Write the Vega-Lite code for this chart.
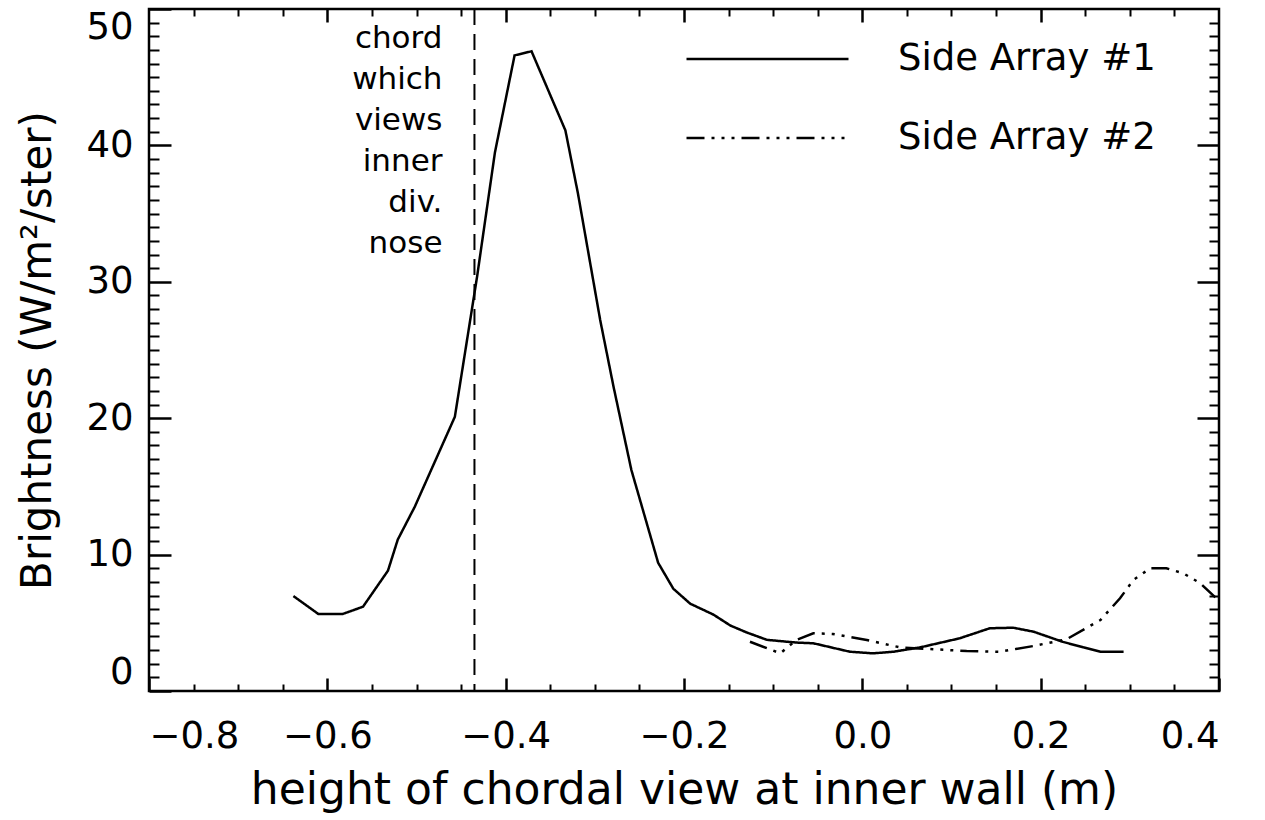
{
  "$schema": "https://vega.github.io/schema/vega-lite/v6.json",
  "width": 1070,
  "height": 682,
  "autosize": {"type": "none"},
  "padding": {"left": 149, "top": 9, "right": 46, "bottom": 129},
  "background": "white",
  "config": {
    "view": {"stroke": "black", "strokeWidth": 2.5},
    "font": "DejaVu Sans",
    "axis": {"grid": false, "domain": false, "tickColor": "black", "labelColor": "black", "titleColor": "black", "labelFont": "DejaVu Sans", "titleFont": "DejaVu Sans", "titleFontWeight": "normal"}
  },
  "data": {"values": [
    {"series": "Side Array #1", "height": -0.638, "brightness": 6.96},
    {"series": "Side Array #1", "height": -0.610, "brightness": 5.64},
    {"series": "Side Array #1", "height": -0.583, "brightness": 5.64},
    {"series": "Side Array #1", "height": -0.560, "brightness": 6.18},
    {"series": "Side Array #1", "height": -0.532, "brightness": 8.82},
    {"series": "Side Array #1", "height": -0.521, "brightness": 11.1},
    {"series": "Side Array #1", "height": -0.502, "brightness": 13.5},
    {"series": "Side Array #1", "height": -0.457, "brightness": 20.1},
    {"series": "Side Array #1", "height": -0.432, "brightness": 30.4},
    {"series": "Side Array #1", "height": -0.412, "brightness": 39.5},
    {"series": "Side Array #1", "height": -0.390, "brightness": 46.6},
    {"series": "Side Array #1", "height": -0.371, "brightness": 46.9},
    {"series": "Side Array #1", "height": -0.333, "brightness": 41.1},
    {"series": "Side Array #1", "height": -0.319, "brightness": 36.5},
    {"series": "Side Array #1", "height": -0.294, "brightness": 27.2},
    {"series": "Side Array #1", "height": -0.279, "brightness": 22.3},
    {"series": "Side Array #1", "height": -0.259, "brightness": 16.2},
    {"series": "Side Array #1", "height": -0.229, "brightness": 9.4},
    {"series": "Side Array #1", "height": -0.212, "brightness": 7.5},
    {"series": "Side Array #1", "height": -0.193, "brightness": 6.4},
    {"series": "Side Array #1", "height": -0.167, "brightness": 5.6},
    {"series": "Side Array #1", "height": -0.148, "brightness": 4.8},
    {"series": "Side Array #1", "height": -0.130, "brightness": 4.3},
    {"series": "Side Array #1", "height": -0.107, "brightness": 3.75},
    {"series": "Side Array #1", "height": -0.074, "brightness": 3.55},
    {"series": "Side Array #1", "height": -0.055, "brightness": 3.5},
    {"series": "Side Array #1", "height": -0.014, "brightness": 2.88},
    {"series": "Side Array #1", "height": 0.012, "brightness": 2.76},
    {"series": "Side Array #1", "height": 0.035, "brightness": 2.88},
    {"series": "Side Array #1", "height": 0.065, "brightness": 3.2},
    {"series": "Side Array #1", "height": 0.109, "brightness": 3.86},
    {"series": "Side Array #1", "height": 0.143, "brightness": 4.6},
    {"series": "Side Array #1", "height": 0.169, "brightness": 4.64},
    {"series": "Side Array #1", "height": 0.192, "brightness": 4.35},
    {"series": "Side Array #1", "height": 0.225, "brightness": 3.6},
    {"series": "Side Array #1", "height": 0.248, "brightness": 3.2},
    {"series": "Side Array #1", "height": 0.267, "brightness": 2.88},
    {"series": "Side Array #1", "height": 0.293, "brightness": 2.88},
    {"series": "Side Array #2", "height": -0.126, "brightness": 3.61},
    {"series": "Side Array #2", "height": -0.092, "brightness": 2.76},
    {"series": "Side Array #2", "height": -0.074, "brightness": 3.74},
    {"series": "Side Array #2", "height": -0.055, "brightness": 4.23},
    {"series": "Side Array #2", "height": -0.033, "brightness": 4.18},
    {"series": "Side Array #2", "height": 0.005, "brightness": 3.74},
    {"series": "Side Array #2", "height": 0.042, "brightness": 3.2},
    {"series": "Side Array #2", "height": 0.080, "brightness": 3.06},
    {"series": "Side Array #2", "height": 0.117, "brightness": 2.93},
    {"series": "Side Array #2", "height": 0.154, "brightness": 2.88},
    {"series": "Side Array #2", "height": 0.192, "brightness": 3.3},
    {"series": "Side Array #2", "height": 0.229, "brightness": 3.79},
    {"series": "Side Array #2", "height": 0.267, "brightness": 5.2},
    {"series": "Side Array #2", "height": 0.289, "brightness": 6.8},
    {"series": "Side Array #2", "height": 0.304, "brightness": 8.14},
    {"series": "Side Array #2", "height": 0.323, "brightness": 9.0},
    {"series": "Side Array #2", "height": 0.341, "brightness": 9.0},
    {"series": "Side Array #2", "height": 0.360, "brightness": 8.63},
    {"series": "Side Array #2", "height": 0.379, "brightness": 7.9},
    {"series": "Side Array #2", "height": 0.399, "brightness": 6.67}
  ]},
  "resolve": {"axis": {"x": "independent", "y": "independent"}},
  "layer": [
    {
      "mark": {"type": "line", "color": "black", "strokeWidth": 2.5},
      "encoding": {
        "x": {"field": "height", "type": "quantitative",
          "scale": {"domain": [-0.8, 0.4], "nice": false, "zero": false},
          "axis": {"orient": "bottom", "values": [-0.8, -0.6, -0.4, -0.2, 0, 0.2, 0.4], "format": ".1f", "tickSize": -13, "tickWidth": 2.5, "labelFontSize": 37, "labelPadding": 40, "title": "height of chordal view at inner wall (m)", "titleFontSize": 44, "titlePadding": 14}},
        "y": {"field": "brightness", "type": "quantitative",
          "scale": {"domain": [0, 50], "nice": false, "zero": true},
          "axis": {"orient": "left", "values": [0, 10, 20, 30, 40, 50], "format": "d", "tickSize": -22, "tickWidth": 2.5, "labelFontSize": 37, "labelPadding": 38, "labelFlush": true, "title": "Brightness (W/m²/ster)", "titleFontSize": 42, "titlePadding": 26}},
        "strokeDash": {"field": "series", "type": "nominal",
          "scale": {"domain": ["Side Array #1", "Side Array #2"], "range": [[1, 0], [18, 7, 3, 7, 3, 7, 3, 7]]},
          "legend": {"orient": "none", "legendX": 536, "legendY": 30, "title": null, "symbolType": "stroke", "symbolSize": 26244, "symbolStrokeWidth": 2.5, "symbolStrokeColor": "black", "labelFontSize": 37, "labelOffset": 48, "labelLimit": 500, "labelColor": "black", "rowPadding": 39, "clipHeight": 40, "padding": 0}}
      }
    },
    {
      "mark": {"type": "point", "opacity": 0},
      "encoding": {
        "x": {"field": "height", "type": "quantitative",
          "axis": {"orient": "bottom", "values": [-0.75, -0.7, -0.65, -0.55, -0.5, -0.45, -0.35, -0.3, -0.25, -0.15, -0.1, -0.05, 0.05, 0.1, 0.15, 0.25, 0.3, 0.35], "labels": false, "tickSize": -7, "tickWidth": 2, "title": null}},
        "y": {"field": "brightness", "type": "quantitative",
          "axis": {"orient": "left", "values": [1, 2, 3, 4, 5, 6, 7, 8, 9, 11, 12, 13, 14, 15, 16, 17, 18, 19, 21, 22, 23, 24, 25, 26, 27, 28, 29, 31, 32, 33, 34, 35, 36, 37, 38, 39, 41, 42, 43, 44, 45, 46, 47, 48, 49], "labels": false, "tickSize": -10, "tickWidth": 2, "title": null}}
      }
    },
    {
      "mark": {"type": "point", "opacity": 0},
      "encoding": {
        "x": {"field": "height", "type": "quantitative",
          "axis": {"orient": "top", "values": [-0.6, -0.4, -0.2, 0, 0.2], "labels": false, "tickSize": -13, "tickWidth": 2.5, "title": null}},
        "y": {"field": "brightness", "type": "quantitative",
          "axis": {"orient": "right", "values": [10, 20, 30, 40], "labels": false, "tickSize": -22, "tickWidth": 2.5, "title": null}}
      }
    },
    {
      "mark": {"type": "point", "opacity": 0},
      "encoding": {
        "x": {"field": "height", "type": "quantitative",
          "axis": {"orient": "top", "values": [-0.75, -0.7, -0.65, -0.55, -0.5, -0.45, -0.35, -0.3, -0.25, -0.15, -0.1, -0.05, 0.05, 0.1, 0.15, 0.25, 0.3, 0.35], "labels": false, "tickSize": -7, "tickWidth": 2, "title": null}},
        "y": {"field": "brightness", "type": "quantitative",
          "axis": {"orient": "right", "values": [1, 2, 3, 4, 5, 6, 7, 8, 9, 11, 12, 13, 14, 15, 16, 17, 18, 19, 21, 22, 23, 24, 25, 26, 27, 28, 29, 31, 32, 33, 34, 35, 36, 37, 38, 39, 41, 42, 43, 44, 45, 46, 47, 48, 49], "labels": false, "tickSize": -10, "tickWidth": 2, "title": null}}
      }
    },
    {
      "data": {"values": [{"position": -0.435, "note": "chord\nwhich\nviews\ninner\ndiv.\nnose"}]},
      "mark": {"type": "rule", "color": "black", "strokeWidth": 2, "strokeDash": [16, 9]},
      "encoding": {
        "x": {"field": "position", "type": "quantitative", "axis": null}
      }
    },
    {
      "data": {"values": [{"position": -0.435, "note": "chord\nwhich\nviews\ninner\ndiv.\nnose"}]},
      "mark": {"type": "text", "align": "right", "baseline": "top", "lineBreak": "\n", "lineHeight": 41, "fontSize": 31, "dx": -32, "color": "black"},
      "encoding": {
        "x": {"field": "position", "type": "quantitative", "axis": null},
        "y": {"datum": 48.9, "type": "quantitative", "axis": null},
        "text": {"field": "note"}
      }
    }
  ]
}
